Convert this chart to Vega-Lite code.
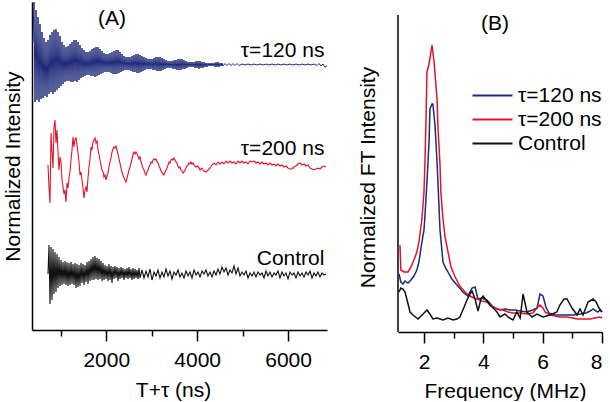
{
"$schema": "https://vega.github.io/schema/vega-lite/v6.json",
"padding": {"left": 2, "top": 0, "right": 0, "bottom": 0},
"background": "white",
"config": {
 "view": {"stroke": null},
 "font": "Liberation Sans",
 "axis": {"domainColor": "black", "domainWidth": 1.5, "tickColor": "black", "tickWidth": 1.5, "labelFont": "Liberation Sans", "labelFontSize": 21, "labelColor": "black", "titleFont": "Liberation Sans", "titleFontSize": 21, "titleFontWeight": "normal", "titleColor": "black", "grid": false}
},
"datasets": {
 "blue": [{"t":388,"v":288},{"t":410,"v":328},{"t":432,"v":228},{"t":454,"v":320},{"t":476,"v":230},{"t":498,"v":313},{"t":520,"v":228},{"t":542,"v":306},{"t":564,"v":231},{"t":586,"v":298},{"t":608,"v":232},{"t":630,"v":292},{"t":652,"v":234},{"t":674,"v":288},{"t":696,"v":233},{"t":718,"v":290},{"t":740,"v":236},{"t":762,"v":295},{"t":784,"v":238},{"t":806,"v":298},{"t":828,"v":236},{"t":850,"v":300},{"t":872,"v":238},{"t":894,"v":301},{"t":916,"v":240},{"t":938,"v":298},{"t":960,"v":242},{"t":982,"v":294},{"t":1004,"v":244},{"t":1026,"v":288},{"t":1048,"v":246},{"t":1070,"v":285},{"t":1092,"v":248},{"t":1114,"v":283},{"t":1136,"v":249},{"t":1158,"v":284},{"t":1180,"v":249},{"t":1202,"v":286},{"t":1224,"v":248},{"t":1246,"v":288},{"t":1268,"v":248},{"t":1290,"v":290},{"t":1312,"v":249},{"t":1334,"v":290},{"t":1356,"v":248},{"t":1378,"v":288},{"t":1400,"v":250},{"t":1422,"v":285},{"t":1444,"v":252},{"t":1466,"v":282},{"t":1488,"v":253},{"t":1510,"v":280},{"t":1532,"v":254},{"t":1554,"v":278},{"t":1576,"v":255},{"t":1598,"v":278},{"t":1620,"v":255},{"t":1642,"v":279},{"t":1664,"v":254},{"t":1686,"v":281},{"t":1708,"v":254},{"t":1730,"v":282},{"t":1752,"v":253},{"t":1774,"v":283},{"t":1796,"v":254},{"t":1818,"v":283},{"t":1840,"v":255},{"t":1862,"v":281},{"t":1884,"v":256},{"t":1906,"v":279},{"t":1928,"v":257},{"t":1950,"v":277},{"t":1972,"v":258},{"t":1994,"v":276},{"t":2016,"v":258},{"t":2038,"v":276},{"t":2060,"v":258},{"t":2082,"v":277},{"t":2104,"v":257},{"t":2126,"v":278},{"t":2148,"v":256},{"t":2170,"v":279},{"t":2192,"v":256},{"t":2214,"v":280},{"t":2236,"v":256},{"t":2258,"v":280},{"t":2280,"v":257},{"t":2302,"v":278},{"t":2324,"v":258},{"t":2346,"v":276},{"t":2368,"v":259},{"t":2390,"v":274},{"t":2412,"v":260},{"t":2434,"v":273},{"t":2456,"v":260},{"t":2478,"v":273},{"t":2500,"v":260},{"t":2522,"v":273},{"t":2544,"v":259},{"t":2566,"v":274},{"t":2588,"v":258},{"t":2610,"v":275},{"t":2632,"v":258},{"t":2654,"v":276},{"t":2676,"v":257},{"t":2698,"v":276},{"t":2720,"v":257},{"t":2742,"v":275},{"t":2764,"v":258},{"t":2786,"v":274},{"t":2808,"v":259},{"t":2830,"v":273},{"t":2852,"v":260},{"t":2874,"v":272},{"t":2896,"v":261},{"t":2918,"v":271},{"t":2940,"v":261},{"t":2962,"v":271},{"t":2984,"v":261},{"t":3006,"v":271},{"t":3028,"v":260},{"t":3050,"v":272},{"t":3072,"v":260},{"t":3094,"v":273},{"t":3116,"v":259},{"t":3138,"v":273},{"t":3160,"v":259},{"t":3182,"v":273},{"t":3204,"v":259},{"t":3226,"v":272},{"t":3248,"v":260},{"t":3270,"v":271},{"t":3292,"v":261},{"t":3314,"v":270},{"t":3336,"v":262},{"t":3358,"v":269},{"t":3380,"v":262},{"t":3402,"v":269},{"t":3424,"v":262},{"t":3446,"v":269},{"t":3468,"v":261},{"t":3490,"v":270},{"t":3512,"v":261},{"t":3534,"v":270},{"t":3556,"v":260},{"t":3578,"v":271},{"t":3600,"v":260},{"t":3622,"v":271},{"t":3644,"v":260},{"t":3666,"v":271},{"t":3688,"v":261},{"t":3710,"v":270},{"t":3732,"v":261},{"t":3754,"v":269},{"t":3776,"v":262},{"t":3798,"v":268},{"t":3820,"v":263},{"t":3842,"v":268},{"t":3864,"v":263},{"t":3886,"v":268},{"t":3908,"v":263},{"t":3930,"v":268},{"t":3952,"v":262},{"t":3974,"v":269},{"t":3996,"v":262},{"t":4018,"v":269},{"t":4040,"v":261},{"t":4062,"v":269},{"t":4084,"v":262},{"t":4106,"v":268},{"t":4128,"v":262},{"t":4150,"v":268},{"t":4172,"v":263},{"t":4194,"v":267},{"t":4216,"v":263},{"t":4238,"v":267},{"t":4260,"v":264},{"t":4282,"v":267},{"t":4304,"v":264},{"t":4326,"v":267},{"t":4348,"v":264},{"t":4370,"v":267},{"t":4392,"v":263},{"t":4414,"v":268},{"t":4436,"v":263},{"t":4458,"v":268},{"t":4480,"v":263},{"t":4502,"v":267},{"t":4524,"v":264},{"t":4546,"v":267},{"t":4568,"v":264},{"t":4612,"v":266.5},{"t":4656,"v":264.5},{"t":4700,"v":266.5},{"t":4744,"v":264.5},{"t":4788,"v":266.5},{"t":4832,"v":264.5},{"t":4876,"v":266.5},{"t":4920,"v":264.5},{"t":4986,"v":266},{"t":5052,"v":265},{"t":5118,"v":266},{"t":5184,"v":265},{"t":5250,"v":266},{"t":5316,"v":265},{"t":5382,"v":266},{"t":5448,"v":265},{"t":5514,"v":266},{"t":5580,"v":265},{"t":5646,"v":266},{"t":5712,"v":265},{"t":5778,"v":266},{"t":5844,"v":265},{"t":5910,"v":266},{"t":5976,"v":265},{"t":6042,"v":266},{"t":6108,"v":265},{"t":6174,"v":266},{"t":6240,"v":265},{"t":6306,"v":266},{"t":6372,"v":265},{"t":6438,"v":266},{"t":6504,"v":265},{"t":6570,"v":266},{"t":6636,"v":264.5},{"t":6680,"v":266.5},{"t":6724,"v":264},{"t":6768,"v":266},{"t":6812,"v":263},{"t":6856,"v":264}],
 "red": [{"t":718,"v":165},{"t":740,"v":143},{"t":762,"v":127},{"t":784,"v":197},{"t":806,"v":178},{"t":828,"v":162},{"t":850,"v":203},{"t":872,"v":210},{"t":894,"v":187},{"t":916,"v":200},{"t":938,"v":178},{"t":960,"v":160},{"t":982,"v":173},{"t":1004,"v":168},{"t":1026,"v":150},{"t":1048,"v":143},{"t":1070,"v":136},{"t":1092,"v":140},{"t":1114,"v":128},{"t":1136,"v":147},{"t":1158,"v":142},{"t":1180,"v":152},{"t":1202,"v":158},{"t":1224,"v":170},{"t":1246,"v":180},{"t":1268,"v":193},{"t":1290,"v":183},{"t":1312,"v":191},{"t":1334,"v":192},{"t":1356,"v":185},{"t":1378,"v":177},{"t":1400,"v":168},{"t":1422,"v":155},{"t":1444,"v":158},{"t":1466,"v":150},{"t":1488,"v":142},{"t":1510,"v":132},{"t":1532,"v":140},{"t":1554,"v":143},{"t":1576,"v":138},{"t":1598,"v":152},{"t":1620,"v":163},{"t":1642,"v":171},{"t":1664,"v":183},{"t":1686,"v":180},{"t":1708,"v":188},{"t":1730,"v":190},{"t":1752,"v":192},{"t":1774,"v":187},{"t":1796,"v":189},{"t":1818,"v":180},{"t":1840,"v":176},{"t":1862,"v":170},{"t":1884,"v":165},{"t":1906,"v":160},{"t":1928,"v":158},{"t":1950,"v":153},{"t":1972,"v":155},{"t":1994,"v":150},{"t":2016,"v":154},{"t":2038,"v":157},{"t":2060,"v":163},{"t":2082,"v":168},{"t":2104,"v":172},{"t":2126,"v":178},{"t":2148,"v":181},{"t":2170,"v":183},{"t":2192,"v":182},{"t":2214,"v":184},{"t":2236,"v":180},{"t":2258,"v":176},{"t":2280,"v":171},{"t":2302,"v":167},{"t":2324,"v":162},{"t":2346,"v":158},{"t":2368,"v":155},{"t":2390,"v":152},{"t":2412,"v":150},{"t":2434,"v":148},{"t":2456,"v":152},{"t":2478,"v":156},{"t":2500,"v":160},{"t":2522,"v":163},{"t":2544,"v":167},{"t":2566,"v":171},{"t":2588,"v":175},{"t":2610,"v":178},{"t":2632,"v":176},{"t":2654,"v":178},{"t":2676,"v":176},{"t":2698,"v":174},{"t":2720,"v":171},{"t":2742,"v":173},{"t":2764,"v":168},{"t":2786,"v":165},{"t":2808,"v":162},{"t":2830,"v":160},{"t":2852,"v":157},{"t":2874,"v":155},{"t":2896,"v":158},{"t":2918,"v":160},{"t":2940,"v":163},{"t":2962,"v":165},{"t":2984,"v":168},{"t":3006,"v":167},{"t":3028,"v":170},{"t":3050,"v":171},{"t":3072,"v":170},{"t":3094,"v":171},{"t":3116,"v":168},{"t":3138,"v":167},{"t":3160,"v":164},{"t":3182,"v":162},{"t":3204,"v":159},{"t":3226,"v":157},{"t":3248,"v":156},{"t":3270,"v":155},{"t":3292,"v":158},{"t":3314,"v":160},{"t":3336,"v":162},{"t":3358,"v":165},{"t":3380,"v":168},{"t":3402,"v":167},{"t":3424,"v":170},{"t":3446,"v":171},{"t":3468,"v":170},{"t":3490,"v":172},{"t":3512,"v":170},{"t":3534,"v":168},{"t":3556,"v":167},{"t":3578,"v":164},{"t":3600,"v":162},{"t":3622,"v":163},{"t":3644,"v":160},{"t":3666,"v":159},{"t":3688,"v":157},{"t":3710,"v":158},{"t":3732,"v":160},{"t":3754,"v":162},{"t":3776,"v":164},{"t":3798,"v":165},{"t":3820,"v":167},{"t":3842,"v":166},{"t":3864,"v":168},{"t":3886,"v":166},{"t":3908,"v":167},{"t":3930,"v":165},{"t":3974,"v":163},{"t":4018,"v":164},{"t":4062,"v":160},{"t":4106,"v":162},{"t":4150,"v":159},{"t":4194,"v":158},{"t":4238,"v":160},{"t":4282,"v":162},{"t":4326,"v":165},{"t":4370,"v":167},{"t":4414,"v":165},{"t":4458,"v":168},{"t":4502,"v":166},{"t":4546,"v":168},{"t":4590,"v":166},{"t":4634,"v":169},{"t":4678,"v":167},{"t":4722,"v":169},{"t":4766,"v":167},{"t":4810,"v":168},{"t":4854,"v":166},{"t":4898,"v":169},{"t":4942,"v":167},{"t":4986,"v":169},{"t":5030,"v":167},{"t":5074,"v":168},{"t":5118,"v":166},{"t":5162,"v":169},{"t":5206,"v":168},{"t":5250,"v":169},{"t":5294,"v":167},{"t":5338,"v":168},{"t":5382,"v":166},{"t":5426,"v":168},{"t":5470,"v":166},{"t":5514,"v":167},{"t":5558,"v":165},{"t":5602,"v":167},{"t":5646,"v":165},{"t":5690,"v":166},{"t":5734,"v":164},{"t":5778,"v":166},{"t":5822,"v":164},{"t":5866,"v":165},{"t":5910,"v":163},{"t":5954,"v":164},{"t":5998,"v":162},{"t":6042,"v":161},{"t":6086,"v":161},{"t":6130,"v":163},{"t":6174,"v":164},{"t":6218,"v":166},{"t":6262,"v":167},{"t":6306,"v":165},{"t":6350,"v":166},{"t":6394,"v":164},{"t":6438,"v":165},{"t":6482,"v":162},{"t":6526,"v":161},{"t":6570,"v":160},{"t":6614,"v":161},{"t":6658,"v":162},{"t":6702,"v":161},{"t":6746,"v":163},{"t":6790,"v":164},{"t":6834,"v":163}],
 "ctrl": [{"t":718,"v":56},{"t":740,"v":85},{"t":762,"v":26},{"t":784,"v":83},{"t":806,"v":30},{"t":828,"v":81},{"t":850,"v":36},{"t":872,"v":78},{"t":894,"v":38},{"t":916,"v":76},{"t":938,"v":42},{"t":960,"v":73},{"t":982,"v":44},{"t":1004,"v":70},{"t":1026,"v":45},{"t":1048,"v":68},{"t":1070,"v":46},{"t":1092,"v":69},{"t":1114,"v":45},{"t":1136,"v":68},{"t":1158,"v":44},{"t":1180,"v":67},{"t":1202,"v":45},{"t":1224,"v":68},{"t":1246,"v":46},{"t":1268,"v":66},{"t":1290,"v":45},{"t":1312,"v":67},{"t":1334,"v":42},{"t":1356,"v":66},{"t":1378,"v":43},{"t":1400,"v":65},{"t":1422,"v":44},{"t":1444,"v":67},{"t":1466,"v":47},{"t":1488,"v":66},{"t":1510,"v":45},{"t":1532,"v":65},{"t":1554,"v":48},{"t":1576,"v":68},{"t":1598,"v":46},{"t":1620,"v":69},{"t":1642,"v":49},{"t":1664,"v":71},{"t":1686,"v":50},{"t":1708,"v":73},{"t":1730,"v":50},{"t":1752,"v":74},{"t":1774,"v":51},{"t":1796,"v":72},{"t":1818,"v":50},{"t":1840,"v":71},{"t":1862,"v":51},{"t":1884,"v":69},{"t":1906,"v":49},{"t":1928,"v":67},{"t":1950,"v":50},{"t":1972,"v":65},{"t":1994,"v":51},{"t":2016,"v":64},{"t":2038,"v":49},{"t":2060,"v":66},{"t":2082,"v":50},{"t":2104,"v":64},{"t":2126,"v":47},{"t":2148,"v":63},{"t":2170,"v":51},{"t":2192,"v":64},{"t":2214,"v":52},{"t":2236,"v":63},{"t":2258,"v":49},{"t":2280,"v":62},{"t":2302,"v":51},{"t":2324,"v":63},{"t":2346,"v":52},{"t":2368,"v":62},{"t":2390,"v":50},{"t":2412,"v":61},{"t":2434,"v":52},{"t":2456,"v":62},{"t":2478,"v":51},{"t":2500,"v":63},{"t":2522,"v":52},{"t":2544,"v":61},{"t":2566,"v":50},{"t":2588,"v":62},{"t":2610,"v":51},{"t":2632,"v":61},{"t":2654,"v":52},{"t":2676,"v":60},{"t":2698,"v":51},{"t":2720,"v":62},{"t":2742,"v":52},{"t":2786,"v":60},{"t":2830,"v":52},{"t":2874,"v":59},{"t":2918,"v":53},{"t":2962,"v":61},{"t":3006,"v":50},{"t":3050,"v":58},{"t":3094,"v":54},{"t":3138,"v":60},{"t":3182,"v":52},{"t":3226,"v":58},{"t":3270,"v":53},{"t":3314,"v":61},{"t":3358,"v":54},{"t":3402,"v":59},{"t":3446,"v":51},{"t":3490,"v":58},{"t":3534,"v":55},{"t":3578,"v":60},{"t":3622,"v":53},{"t":3666,"v":57},{"t":3710,"v":52},{"t":3754,"v":59},{"t":3798,"v":54},{"t":3842,"v":58},{"t":3886,"v":52},{"t":3930,"v":60},{"t":3974,"v":55},{"t":4018,"v":58},{"t":4062,"v":53},{"t":4106,"v":59},{"t":4150,"v":56},{"t":4194,"v":60},{"t":4238,"v":54},{"t":4282,"v":58},{"t":4326,"v":53},{"t":4370,"v":59},{"t":4414,"v":55},{"t":4458,"v":61},{"t":4502,"v":56},{"t":4546,"v":63},{"t":4590,"v":58},{"t":4634,"v":62},{"t":4678,"v":55},{"t":4722,"v":60},{"t":4766,"v":57},{"t":4810,"v":64},{"t":4854,"v":56},{"t":4898,"v":62},{"t":4942,"v":54},{"t":4986,"v":58},{"t":5030,"v":55},{"t":5074,"v":59},{"t":5118,"v":52},{"t":5162,"v":57},{"t":5206,"v":54},{"t":5250,"v":58},{"t":5294,"v":53},{"t":5338,"v":58},{"t":5382,"v":55},{"t":5426,"v":57},{"t":5470,"v":52},{"t":5514,"v":59},{"t":5558,"v":54},{"t":5602,"v":58},{"t":5646,"v":53},{"t":5690,"v":57},{"t":5734,"v":55},{"t":5778,"v":59},{"t":5822,"v":52},{"t":5866,"v":58},{"t":5910,"v":54},{"t":5954,"v":57},{"t":5998,"v":51},{"t":6042,"v":58},{"t":6086,"v":55},{"t":6130,"v":57},{"t":6174,"v":52},{"t":6218,"v":58},{"t":6262,"v":54},{"t":6306,"v":57},{"t":6350,"v":53},{"t":6394,"v":58},{"t":6438,"v":55},{"t":6482,"v":59},{"t":6526,"v":52},{"t":6570,"v":57},{"t":6614,"v":54},{"t":6658,"v":58},{"t":6702,"v":53},{"t":6746,"v":57},{"t":6790,"v":55},{"t":6834,"v":56}],
 "labelsA": [{"label":"τ=120 ns","t":6800,"v":273},{"label":"τ=200 ns","t":6800,"v":175},{"label":"Control","t":6800,"v":65}],
 "ft": [
  {"s":"τ=120 ns","f":1.16,"v":58},{"s":"τ=120 ns","f":1.22,"v":50},{"s":"τ=120 ns","f":1.29,"v":48},{"s":"τ=120 ns","f":1.36,"v":51},{"s":"τ=120 ns","f":1.46,"v":49},{"s":"τ=120 ns","f":1.56,"v":52},{"s":"τ=120 ns","f":1.66,"v":56},{"s":"τ=120 ns","f":1.76,"v":62},{"s":"τ=120 ns","f":1.83,"v":70},{"s":"τ=120 ns","f":1.93,"v":90},{"s":"τ=120 ns","f":2.0,"v":102},{"s":"τ=120 ns","f":2.03,"v":115},{"s":"τ=120 ns","f":2.1,"v":150},{"s":"τ=120 ns","f":2.17,"v":190},{"s":"τ=120 ns","f":2.2,"v":223},{"s":"τ=120 ns","f":2.27,"v":228},{"s":"τ=120 ns","f":2.3,"v":228},{"s":"τ=120 ns","f":2.37,"v":207},{"s":"τ=120 ns","f":2.44,"v":170},{"s":"τ=120 ns","f":2.47,"v":150},{"s":"τ=120 ns","f":2.54,"v":102},{"s":"τ=120 ns","f":2.64,"v":70},{"s":"τ=120 ns","f":2.71,"v":65},{"s":"τ=120 ns","f":2.81,"v":60},{"s":"τ=120 ns","f":2.88,"v":56},{"s":"τ=120 ns","f":2.94,"v":53},{"s":"τ=120 ns","f":3.11,"v":47},{"s":"τ=120 ns","f":3.31,"v":40},{"s":"τ=120 ns","f":3.48,"v":36},{"s":"τ=120 ns","f":3.55,"v":40},{"s":"τ=120 ns","f":3.62,"v":44},{"s":"τ=120 ns","f":3.72,"v":45},{"s":"τ=120 ns","f":3.82,"v":33},{"s":"τ=120 ns","f":3.95,"v":34},{"s":"τ=120 ns","f":4.12,"v":32},{"s":"τ=120 ns","f":4.33,"v":25},{"s":"τ=120 ns","f":4.46,"v":23},{"s":"τ=120 ns","f":4.56,"v":22},{"s":"τ=120 ns","f":4.73,"v":23},{"s":"τ=120 ns","f":4.9,"v":22},{"s":"τ=120 ns","f":5.07,"v":22},{"s":"τ=120 ns","f":5.24,"v":21},{"s":"τ=120 ns","f":5.47,"v":20},{"s":"τ=120 ns","f":5.67,"v":22},{"s":"τ=120 ns","f":5.81,"v":24},{"s":"τ=120 ns","f":5.91,"v":38},{"s":"τ=120 ns","f":6.01,"v":36},{"s":"τ=120 ns","f":6.11,"v":25},{"s":"τ=120 ns","f":6.21,"v":19},{"s":"τ=120 ns","f":6.42,"v":17},{"s":"τ=120 ns","f":6.58,"v":17},{"s":"τ=120 ns","f":6.82,"v":17},{"s":"τ=120 ns","f":7.02,"v":17},{"s":"τ=120 ns","f":7.26,"v":18},{"s":"τ=120 ns","f":7.46,"v":19},{"s":"τ=120 ns","f":7.6,"v":21},{"s":"τ=120 ns","f":7.7,"v":23},{"s":"τ=120 ns","f":7.8,"v":21},{"s":"τ=120 ns","f":7.86,"v":20},{"s":"τ=120 ns","f":7.93,"v":22},{"s":"τ=120 ns","f":8.0,"v":20},
  {"s":"τ=200 ns","f":1.19,"v":87},{"s":"τ=200 ns","f":1.22,"v":62},{"s":"τ=200 ns","f":1.33,"v":60},{"s":"τ=200 ns","f":1.46,"v":60},{"s":"τ=200 ns","f":1.56,"v":65},{"s":"τ=200 ns","f":1.66,"v":72},{"s":"τ=200 ns","f":1.76,"v":80},{"s":"τ=200 ns","f":1.83,"v":90},{"s":"τ=200 ns","f":1.93,"v":113},{"s":"τ=200 ns","f":2.0,"v":140},{"s":"τ=200 ns","f":2.03,"v":167},{"s":"τ=200 ns","f":2.07,"v":215},{"s":"τ=200 ns","f":2.1,"v":260},{"s":"τ=200 ns","f":2.17,"v":268},{"s":"τ=200 ns","f":2.27,"v":287},{"s":"τ=200 ns","f":2.34,"v":270},{"s":"τ=200 ns","f":2.44,"v":233},{"s":"τ=200 ns","f":2.47,"v":205},{"s":"τ=200 ns","f":2.54,"v":167},{"s":"τ=200 ns","f":2.57,"v":140},{"s":"τ=200 ns","f":2.64,"v":113},{"s":"τ=200 ns","f":2.71,"v":95},{"s":"τ=200 ns","f":2.81,"v":80},{"s":"τ=200 ns","f":2.91,"v":65},{"s":"τ=200 ns","f":3.05,"v":55},{"s":"τ=200 ns","f":3.21,"v":46},{"s":"τ=200 ns","f":3.38,"v":40},{"s":"τ=200 ns","f":3.55,"v":36},{"s":"τ=200 ns","f":3.68,"v":34},{"s":"τ=200 ns","f":3.79,"v":33},{"s":"τ=200 ns","f":3.95,"v":31},{"s":"τ=200 ns","f":4.12,"v":30},{"s":"τ=200 ns","f":4.33,"v":25},{"s":"τ=200 ns","f":4.49,"v":23},{"s":"τ=200 ns","f":4.66,"v":22},{"s":"τ=200 ns","f":4.83,"v":20},{"s":"τ=200 ns","f":5.0,"v":19},{"s":"τ=200 ns","f":5.24,"v":19},{"s":"τ=200 ns","f":5.47,"v":18},{"s":"τ=200 ns","f":5.67,"v":19},{"s":"τ=200 ns","f":5.81,"v":24},{"s":"τ=200 ns","f":5.91,"v":27},{"s":"τ=200 ns","f":6.01,"v":24},{"s":"τ=200 ns","f":6.08,"v":20},{"s":"τ=200 ns","f":6.25,"v":17},{"s":"τ=200 ns","f":6.42,"v":16},{"s":"τ=200 ns","f":6.58,"v":15},{"s":"τ=200 ns","f":6.82,"v":15},{"s":"τ=200 ns","f":7.02,"v":14},{"s":"τ=200 ns","f":7.16,"v":13},{"s":"τ=200 ns","f":7.36,"v":13},{"s":"τ=200 ns","f":7.6,"v":13},{"s":"τ=200 ns","f":7.76,"v":14},{"s":"τ=200 ns","f":7.93,"v":15},{"s":"τ=200 ns","f":8.0,"v":14},
  {"s":"Control","f":1.16,"v":40},{"s":"Control","f":1.22,"v":44},{"s":"Control","f":1.29,"v":43},{"s":"Control","f":1.36,"v":40},{"s":"Control","f":1.43,"v":32},{"s":"Control","f":1.53,"v":20},{"s":"Control","f":1.63,"v":17},{"s":"Control","f":1.8,"v":13},{"s":"Control","f":1.97,"v":18},{"s":"Control","f":2.1,"v":22},{"s":"Control","f":2.2,"v":18},{"s":"Control","f":2.3,"v":13},{"s":"Control","f":2.44,"v":14},{"s":"Control","f":2.54,"v":13},{"s":"Control","f":2.64,"v":12},{"s":"Control","f":2.81,"v":14},{"s":"Control","f":2.98,"v":12},{"s":"Control","f":3.11,"v":13},{"s":"Control","f":3.21,"v":15},{"s":"Control","f":3.31,"v":22},{"s":"Control","f":3.45,"v":32},{"s":"Control","f":3.55,"v":38},{"s":"Control","f":3.62,"v":41},{"s":"Control","f":3.72,"v":33},{"s":"Control","f":3.82,"v":21},{"s":"Control","f":3.92,"v":33},{"s":"Control","f":3.99,"v":36},{"s":"Control","f":4.12,"v":31},{"s":"Control","f":4.22,"v":27},{"s":"Control","f":4.33,"v":24},{"s":"Control","f":4.46,"v":20},{"s":"Control","f":4.56,"v":15},{"s":"Control","f":4.73,"v":18},{"s":"Control","f":4.83,"v":15},{"s":"Control","f":5.0,"v":12},{"s":"Control","f":5.13,"v":20},{"s":"Control","f":5.24,"v":14},{"s":"Control","f":5.34,"v":38},{"s":"Control","f":5.47,"v":20},{"s":"Control","f":5.64,"v":15},{"s":"Control","f":5.81,"v":18},{"s":"Control","f":6.01,"v":15},{"s":"Control","f":6.25,"v":17},{"s":"Control","f":6.48,"v":20},{"s":"Control","f":6.58,"v":27},{"s":"Control","f":6.72,"v":33},{"s":"Control","f":6.82,"v":33},{"s":"Control","f":6.99,"v":24},{"s":"Control","f":7.16,"v":17},{"s":"Control","f":7.26,"v":23},{"s":"Control","f":7.36,"v":17},{"s":"Control","f":7.53,"v":30},{"s":"Control","f":7.7,"v":33},{"s":"Control","f":7.8,"v":30},{"s":"Control","f":7.9,"v":24},{"s":"Control","f":8.0,"v":20}
 ]
},
"spacing": 28,
"resolve": {"legend": {"color": "independent"}, "scale": {"color": "independent"}},
"hconcat": [
 {
  "width": 295, "height": 328,
  "resolve": {"axis": {"x": "independent", "y": "independent"}},
  "layer": [
   {"data": {"name": "blue"}, "mark": {"type": "line", "color": "#1f2a7a", "strokeWidth": 1},
    "encoding": {
     "x": {"field": "t", "type": "quantitative", "scale": {"domain": [366, 6856], "nice": false, "zero": false},
       "axis": {"values": [2000, 4000, 6000], "format": "d", "tickSize": 11, "labelPadding": 8, "title": "T+τ (ns)", "titleX": 141, "titlePadding": 9, "orient": "bottom"}},
     "y": {"field": "v", "type": "quantitative", "scale": {"domain": [0, 328], "nice": false, "zero": false},
       "axis": {"title": "Normalized Intensity", "ticks": false, "labels": false, "titlePadding": 9, "orient": "left"}}}},
   {"data": {"name": "red"}, "mark": {"type": "line", "color": "#e3132c", "strokeWidth": 1.1},
    "encoding": {
     "x": {"field": "t", "type": "quantitative", "axis": {"values": [1000, 3000, 5000], "tickSize": 6, "labels": false, "domain": false, "title": null, "orient": "bottom"}},
     "y": {"field": "v", "type": "quantitative", "axis": null}}},
   {"data": {"name": "ctrl"}, "mark": {"type": "line", "color": "#111111", "strokeWidth": 1.1},
    "encoding": {
     "x": {"field": "t", "type": "quantitative", "axis": null},
     "y": {"field": "v", "type": "quantitative", "axis": null}}},
   {"data": {"name": "labelsA"}, "mark": {"type": "text", "align": "right", "baseline": "alphabetic", "fontSize": 21, "font": "Liberation Sans", "color": "black"},
    "encoding": {
     "x": {"field": "t", "type": "quantitative", "axis": null},
     "y": {"field": "v", "type": "quantitative", "axis": null},
     "text": {"field": "label"}}},
   {"data": {"values": [{"label": "(A)", "t": 2126, "v": 311}]}, "mark": {"type": "text", "align": "center", "baseline": "middle", "fontSize": 21, "font": "Liberation Sans", "color": "black"},
    "encoding": {
     "x": {"field": "t", "type": "quantitative", "axis": null},
     "y": {"field": "v", "type": "quantitative", "axis": null},
     "text": {"field": "label"}}}
  ]
 },
 {
  "width": 204, "height": 330,
  "resolve": {"axis": {"x": "independent", "y": "independent"}},
  "layer": [
   {"data": {"values": [{}]}, "mark": {"type": "rule", "color": "black", "strokeWidth": 1.5},
    "encoding": {"x": {"datum": 1.124, "type": "quantitative", "axis": null}, "y": {"datum": 0, "type": "quantitative", "axis": null}, "y2": {"datum": 317}}},
   {"data": {"name": "ft"}, "mark": {"type": "line", "strokeWidth": 1.5},
    "encoding": {
     "x": {"field": "f", "type": "quantitative", "scale": {"domain": [1.124, 8], "nice": false, "zero": false},
       "axis": {"values": [2, 4, 6, 8], "tickSize": 11, "labelPadding": 8, "title": "Frequency (MHz)", "titleX": 107, "titlePadding": 8, "orient": "bottom"}},
     "y": {"field": "v", "type": "quantitative", "scale": {"domain": [0, 330], "nice": false, "zero": false},
       "axis": {"title": "Normalized FT Intensity", "domain": false, "ticks": false, "labels": false, "titlePadding": 20, "titleY": 175, "orient": "left"}},
     "color": {"field": "s", "type": "nominal", "sort": ["τ=120 ns", "τ=200 ns", "Control"],
       "scale": {"domain": ["τ=120 ns", "τ=200 ns", "Control"], "range": ["#1f2a7a", "#e3132c", "#111111"]},
       "legend": {"orient": "none", "legendX": 83.5, "legendY": 82.5, "title": null, "symbolType": "M-2,0H2", "symbolSize": 400, "symbolStrokeWidth": 2, "labelFontSize": 21, "labelFont": "Liberation Sans", "labelColor": "black", "labelOffset": 14.5, "rowPadding": 3, "padding": 0}}}},
   {"data": {"values": [{"label": "(B)", "f": 4.39, "v": 308}]}, "mark": {"type": "text", "align": "center", "baseline": "middle", "fontSize": 21, "font": "Liberation Sans", "color": "black"},
    "encoding": {
     "x": {"field": "f", "type": "quantitative", "axis": {"values": [3, 5, 7], "tickSize": 6, "labels": false, "domain": false, "title": null, "orient": "bottom"}},
     "y": {"field": "v", "type": "quantitative", "axis": null},
     "text": {"field": "label"}}}
  ]
 }
]
}
